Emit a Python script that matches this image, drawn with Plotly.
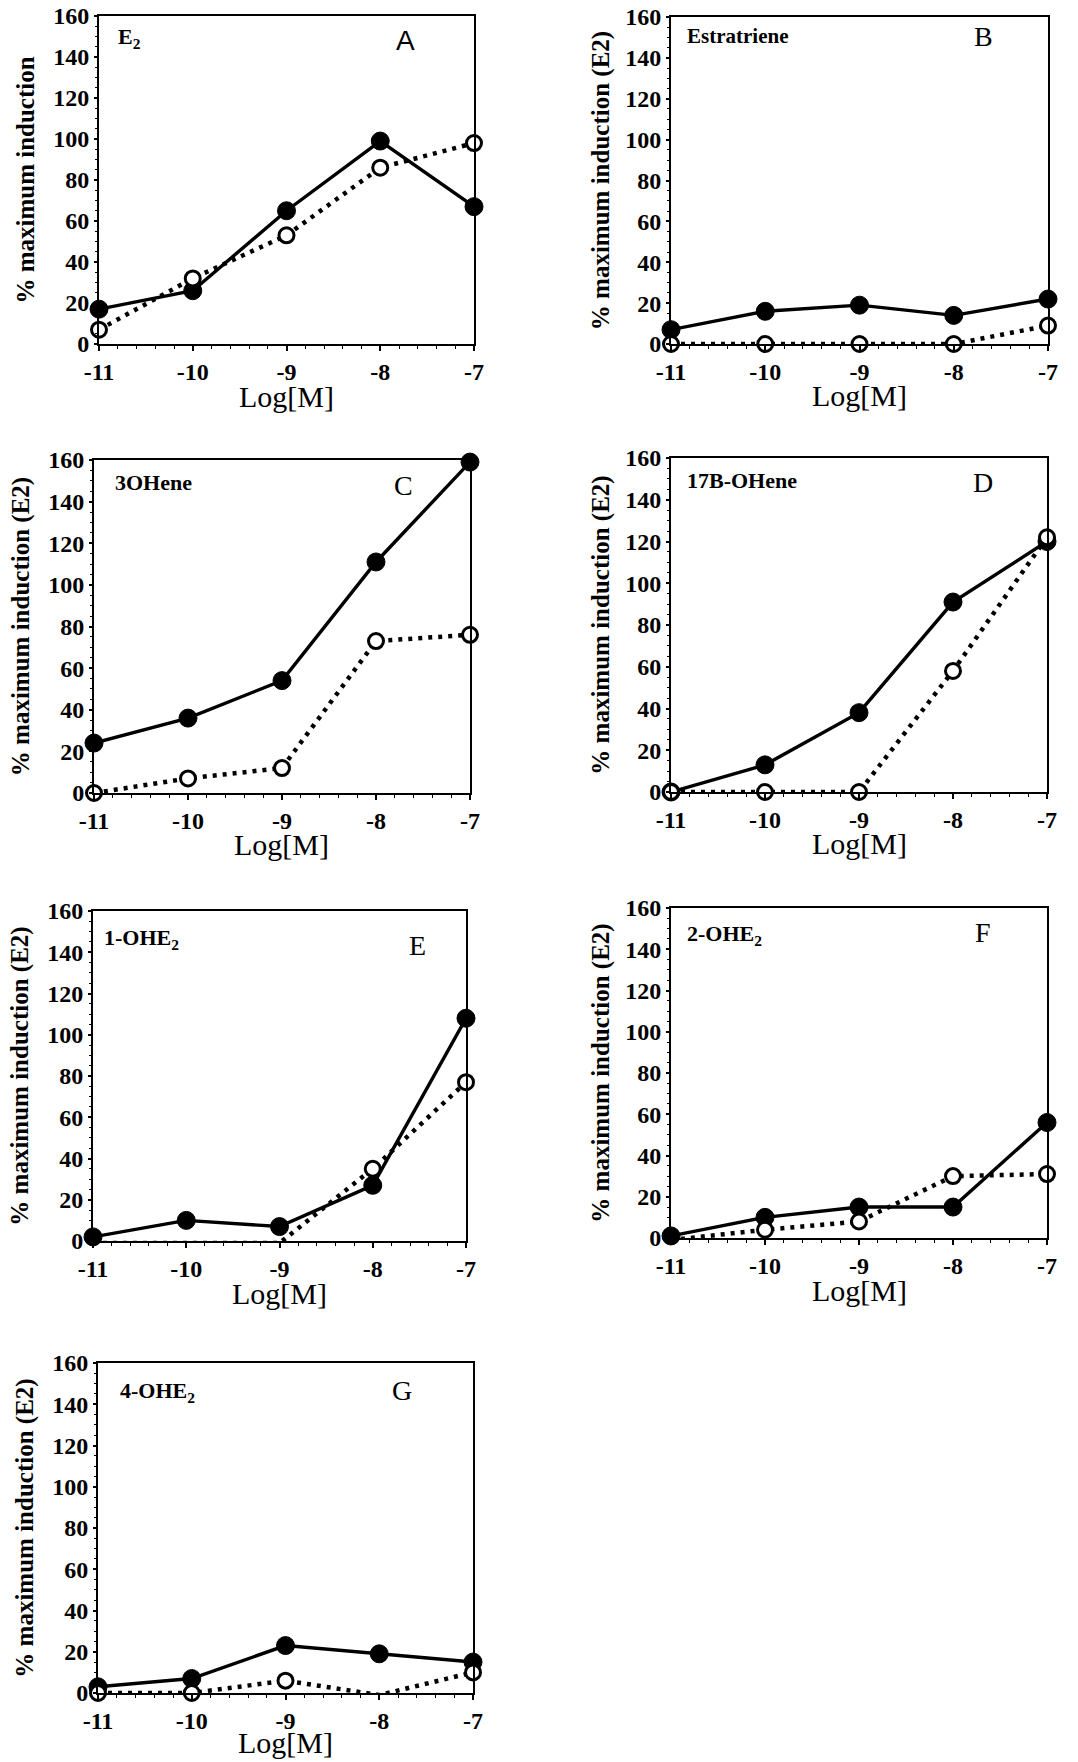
import plotly.graph_objects as go
from plotly.subplots import make_subplots

W, H = 1078, 1762

log_conc = [-11, -10, -9, -8, -7]
x_ticks = [-11, -10, -9, -8, -7]
y_ticks = [0, 20, 40, 60, 80, 100, 120, 140, 160]

compounds = ["E<sub>2</sub>", "Estratriene", "3OHene", "17B-OHene",
             "1-OHE<sub>2</sub>", "2-OHE<sub>2</sub>", "4-OHE<sub>2</sub>"]
panel_letters = ["A", "B", "C", "D", "E", "F", "G"]
y_titles = ["% maximum induction"] + ["% maximum induction (E2)"] * 6
x_title = "Log[M]"

filled_A = [17, 26, 65, 99, 67]
open_A = [7, 32, 53, 86, 98]
filled_B = [7, 16, 19, 14, 22]
open_B = [0, 0, 0, 0, 9]
filled_C = [24, 36, 54, 111, 159]
open_C = [0, 7, 12, 73, 76]
filled_D = [0, 13, 38, 91, 120]
open_D = [0, 0, 0, 58, 122]
filled_E = [2, 10, 7, 27, 108]
open_E = [-1, -1, -1, 35, 77]
filled_F = [1, 10, 15, 15, 56]
open_F = [-1, 4, 8, 30, 31]
filled_G = [3, 7, 23, 19, 15]
open_G = [0, 0, 6, -1, 10]

filled = [filled_A, filled_B, filled_C, filled_D, filled_E, filled_F, filled_G]
opened = [open_A, open_B, open_C, open_D, open_E, open_F, open_G]

# pixel boxes (left, right, top, bottom)
boxes = [
    (99, 474, 16, 344),
    (671, 1048, 17, 344),
    (94, 470, 460, 793),
    (671, 1047, 458, 792),
    (93, 466, 911, 1241),
    (671, 1047, 908, 1238),
    (98, 473, 1363, 1693),
]
letter_pos = [(405, 40), (983, 36), (403, 485), (983, 482), (417, 945), (983, 932), (402, 1390)]
letter_font = ["Liberation Sans", "Liberation Serif", "Liberation Serif", "Liberation Serif",
               "Liberation Serif", "Liberation Serif", "Liberation Serif"]
comp_pos = [(116, 38), (685, 36), (113, 482), (685, 480), (102, 939), (685, 935), (118, 1392)]
comp_size = [22, 21, 22, 22, 22, 22, 22]
xtitle_shift = [-52, -52, -51, -51, -52, -52, -49]


def px(xp):
    return xp / W


def py(yp):
    return 1 - yp / H


specs = [[{}, {}], [{}, {}], [{}, {}], [{}, None]]
fig = make_subplots(rows=4, cols=2, specs=specs)
cells = [(1, 1), (1, 2), (2, 1), (2, 2), (3, 1), (3, 2), (4, 1)]

serif = "Liberation Serif"
for i, (r, c) in enumerate(cells):
    fig.add_trace(go.Scatter(
        x=log_conc, y=filled[i], mode="lines+markers",
        line=dict(color="black", width=3.4),
        marker=dict(symbol="circle", size=18, color="black", line=dict(color="black", width=1)),
        cliponaxis=False, showlegend=False), row=r, col=c)
    fig.add_trace(go.Scatter(
        x=log_conc, y=opened[i], mode="lines+markers",
        line=dict(color="black", width=4.5, dash="4px,6px"),
        marker=dict(symbol="circle", size=15, color="white", line=dict(color="black", width=3)),
        cliponaxis=False, showlegend=False), row=r, col=c)

for i in range(7):
    l, rr, t, b = boxes[i]
    suffix = "" if i == 0 else str(i + 1)
    fig.layout["xaxis" + suffix].update(
        domain=[px(l), px(rr)], range=[-11, -7], tickvals=x_ticks,
        ticktext=[str(v) for v in x_ticks], automargin=False,
        showline=True, linecolor="black", linewidth=2, mirror=True,
        ticks="outside", ticklen=5, tickwidth=2, tickcolor="black",
        minor=dict(dtick=0.2, ticks="outside", ticklen=3, tickcolor="black", tickwidth=1),
        showgrid=False, zeroline=False,
        tickfont=dict(family=serif, size=24, color="black", weight="bold"),
    )
    fig.layout["yaxis" + suffix].update(
        domain=[py(b), py(t)], range=[0, 160], tickvals=y_ticks, automargin=False,
        showline=True, linecolor="black", linewidth=2, mirror=True,
        ticks="outside", ticklen=3, tickwidth=2, tickcolor="black",
        minor=dict(dtick=5, ticks="outside", ticklen=2, tickcolor="black", tickwidth=1),
        showgrid=False, zeroline=False,
        tickfont=dict(family=serif, size=24, color="black", weight="bold"),
        title=dict(text=y_titles[i], font=dict(family=serif, size=25, color="black", weight="bold"),
                   standoff=11 if i % 2 == 0 else 8),
    )
    xa = "x" + suffix
    ya = "y" + suffix
    # x-axis title placed just under the tick labels
    fig.add_annotation(xref=xa + " domain", yref=ya + " domain", x=0.5, y=0,
                       yshift=xtitle_shift[i],
                       text=x_title, showarrow=False, xanchor="center", yanchor="middle",
                       font=dict(family=serif, size=30, color="black"))
    lx, ly = letter_pos[i]
    fig.add_annotation(xref="paper", yref="paper", x=px(lx), y=py(ly),
                       text=panel_letters[i], showarrow=False, xanchor="center", yanchor="middle",
                       font=dict(family=letter_font[i], size=28, color="black"))
    cx, cy = comp_pos[i]
    fig.add_annotation(xref="paper", yref="paper", x=px(cx), y=py(cy),
                       text=compounds[i], showarrow=False, xanchor="left", yanchor="middle",
                       font=dict(family=serif, size=comp_size[i], color="black", weight="bold"))

fig.update_layout(width=W, height=H, margin=dict(l=0, r=0, t=0, b=0),
                  paper_bgcolor="white", plot_bgcolor="white", showlegend=False)

fig.write_html("out.html", config={"displayModeBar": False},
               post_script="document.body.style.margin='0px';document.body.style.overflow='hidden';")
